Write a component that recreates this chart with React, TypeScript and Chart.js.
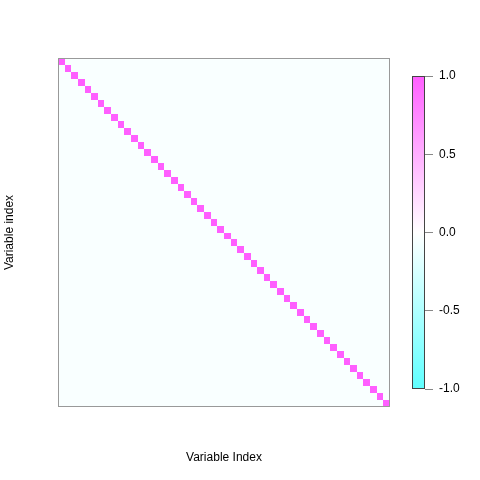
import React, { useEffect, useRef } from "react";
import { Chart, registerables } from "chart.js";

Chart.register(...registerables);

// ---- data ----
const variableIndex = [
  1, 2, 3, 4, 5, 6, 7, 8, 9, 10,
  11, 12, 13, 14, 15, 16, 17, 18, 19, 20,
  21, 22, 23, 24, 25, 26, 27, 28, 29, 30,
  31, 32, 33, 34, 35, 36, 37, 38, 39, 40,
  41, 42, 43, 44, 45, 46, 47, 48, 49, 50,
];
const diagonalCorrelation = 1;
const offDiagonalCorrelation = -0.04;
const colorbarTicks = [-1, -0.5, 0, 0.5, 1];
const paletteValues = [-1, 0, 1];
const paletteColors = ["#5FFFFF", "#FFFFFF", "#FF5FFF"];

const correlationMatrix: number[][] = variableIndex.map((ri) =>
  variableIndex.map((ci) => (ri === ci ? diagonalCorrelation : offDiagonalCorrelation))
);

const FONT = { family: "'Liberation Sans', Arial, Helvetica, sans-serif", size: 12 };

function hexToRgb(h: string) {
  const n = parseInt(h.slice(1), 16);
  return [(n >> 16) & 255, (n >> 8) & 255, n & 255];
}

function colorFor(v: number) {
  let k = 0;
  while (k < paletteValues.length - 2 && v > paletteValues[k + 1]) k++;
  const t = Math.max(0, Math.min(1, (v - paletteValues[k]) / (paletteValues[k + 1] - paletteValues[k])));
  const a = hexToRgb(paletteColors[k]);
  const b = hexToRgb(paletteColors[k + 1]);
  const c = a.map((x, i) => Math.round(x + (b[i] - x) * t));
  return `rgb(${c[0]},${c[1]},${c[2]})`;
}

const heatmapPlugin = {
  id: "heatmapCells",
  beforeDatasetsDraw(chart: any) {
    const { ctx, chartArea, scales } = chart;
    const xs = scales.x;
    const ys = scales.y;
    ctx.save();
    correlationMatrix.forEach((row, r) => {
      row.forEach((v, c) => {
        const xi = variableIndex[c];
        const yi = variableIndex[r];
        const x0 = Math.round(xs.getPixelForValue(xi - 0.5));
        const x1 = Math.round(xs.getPixelForValue(xi + 0.5));
        const y0 = Math.round(ys.getPixelForValue(yi - 0.5));
        const y1 = Math.round(ys.getPixelForValue(yi + 0.5));
        ctx.fillStyle = colorFor(v);
        ctx.fillRect(Math.min(x0, x1), Math.min(y0, y1), Math.abs(x1 - x0), Math.abs(y1 - y0));
      });
    });
    ctx.strokeStyle = "#999999";
    ctx.lineWidth = 1;
    ctx.strokeRect(
      Math.round(chartArea.left) + 0.5,
      Math.round(chartArea.top) + 0.5,
      Math.round(chartArea.width) - 1,
      Math.round(chartArea.height) - 1
    );
    ctx.restore();
  },
};

const colorbarPlugin = {
  id: "colorbarFill",
  beforeDatasetsDraw(chart: any) {
    const { ctx, chartArea, scales } = chart;
    const ys = scales.y;
    const yLow = ys.getPixelForValue(paletteValues[0]);
    const yHigh = ys.getPixelForValue(paletteValues[paletteValues.length - 1]);
    const g = ctx.createLinearGradient(0, yLow, 0, yHigh);
    const span = paletteValues[paletteValues.length - 1] - paletteValues[0];
    paletteValues.forEach((v, i) => g.addColorStop((v - paletteValues[0]) / span, paletteColors[i]));
    ctx.save();
    ctx.fillStyle = g;
    ctx.fillRect(chartArea.left, yHigh, chartArea.width, yLow - yHigh);
    ctx.strokeStyle = "#444444";
    ctx.lineWidth = 1;
    ctx.strokeRect(chartArea.left + 0.5, yHigh + 0.5, chartArea.width - 1, yLow - yHigh - 1);
    ctx.restore();
  },
};

export default function App() {
  const mainRef = useRef<HTMLCanvasElement>(null);
  const barRef = useRef<HTMLCanvasElement>(null);

  useEffect(() => {
    const main = new Chart(mainRef.current!, {
      type: "scatter",
      data: { datasets: [] },
      options: {
        responsive: false,
        animation: false,
        layout: { padding: { left: 0, right: 90, top: 58, bottom: 0 } },
        plugins: { legend: { display: false }, tooltip: { enabled: false } },
        scales: {
          x: {
            type: "linear",
            min: 0.5,
            max: variableIndex.length + 0.5,
            ticks: { display: false },
            grid: { display: false, drawTicks: false },
            border: { display: false },
            title: {
              display: true,
              text: "Variable Index",
              color: "#000",
              font: FONT,
              padding: { top: 43.3, bottom: 15.3 },
            },
          },
          y: {
            type: "linear",
            reverse: true,
            min: 0.5,
            max: variableIndex.length + 0.5,
            ticks: { display: false },
            grid: { display: false, drawTicks: false },
            border: { display: false },
            title: {
              display: true,
              text: "Variable index",
              color: "#000",
              font: FONT,
              padding: { top: 2.3, bottom: 41.3 },
            },
          },
        },
      },
      plugins: [heatmapPlugin],
    });

    const bar = new Chart(barRef.current!, {
      type: "scatter",
      data: { datasets: [] },
      options: {
        responsive: false,
        animation: false,
        layout: { padding: { left: 12, right: 0, top: 76, bottom: 91 } },
        plugins: { legend: { display: false }, tooltip: { enabled: false } },
        scales: {
          x: { type: "linear", display: false, min: 0, max: 1 },
          y: {
            type: "linear",
            position: "right",
            min: colorbarTicks[0],
            max: colorbarTicks[colorbarTicks.length - 1],
            afterBuildTicks: (scale: any) => {
              scale.ticks = colorbarTicks.map((v) => ({ value: v }));
            },
            afterFit: (scale: any) => {
              scale.width = 55;
            },
            ticks: {
              color: "#000",
              font: FONT,
              padding: 6,
              callback: (v: any) => Number(v).toFixed(1),
            },
            grid: {
              display: true,
              drawOnChartArea: false,
              drawTicks: true,
              tickLength: 8,
              color: "#888888",
            },
            border: { display: false },
          },
        },
      },
      plugins: [colorbarPlugin],
    });

    return () => {
      main.destroy();
      bar.destroy();
    };
  }, []);

  return (
    <div style={{ position: "absolute", left: 0, top: 0, width: 480, height: 480, background: "#fff" }}>
      <canvas
        ref={mainRef}
        width={480}
        height={480}
        style={{ position: "absolute", left: 0, top: 0, width: 480, height: 480 }}
      />
      <canvas
        ref={barRef}
        width={80}
        height={480}
        style={{ position: "absolute", left: 400, top: 0, width: 80, height: 480 }}
      />
    </div>
  );
}
